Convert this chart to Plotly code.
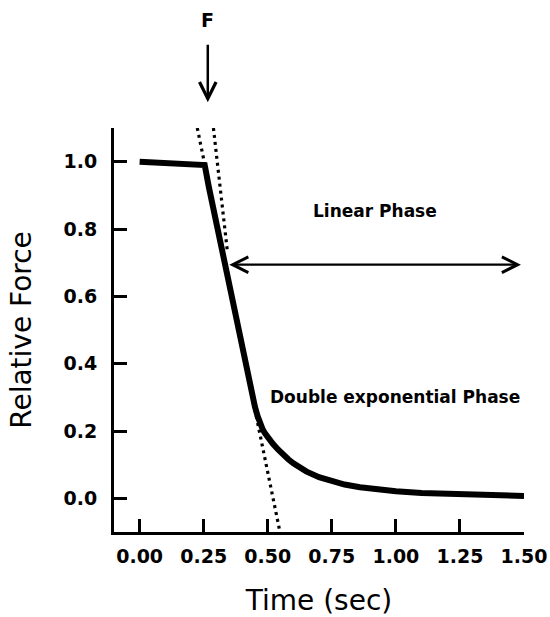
import plotly.graph_objects as go

# Measured force trace (relative force vs time, s)
time_s = [0.00, 0.05, 0.10, 0.15, 0.20, 0.25, 0.254, 0.27, 0.29, 0.31, 0.33, 0.35,
          0.37, 0.39, 0.41, 0.43, 0.44, 0.45, 0.46, 0.47, 0.48, 0.49, 0.50, 0.52,
          0.54, 0.56, 0.58, 0.60, 0.62, 0.65, 0.70, 0.75, 0.80, 0.86, 0.92, 1.00,
          1.10, 1.25, 1.40, 1.50]
rel_force = [1.000, 0.998, 0.996, 0.994, 0.993, 0.992, 0.990, 0.925, 0.850, 0.775, 0.700, 0.628,
             0.555, 0.483, 0.410, 0.335, 0.303, 0.272, 0.245, 0.222, 0.205, 0.192, 0.181, 0.162,
             0.145, 0.129, 0.116, 0.104, 0.093, 0.080, 0.063, 0.050, 0.041, 0.033, 0.027, 0.021,
             0.016, 0.012, 0.009, 0.007]

# Dotted fit lines (end points)
linear_fit_t = [0.225, 0.545]
linear_fit_f = [1.100, -0.090]
tangent_fit_t = [0.288, 0.343]
tangent_fit_f = [1.100, 0.730]

# Tick labels
x_ticks = [0.00, 0.25, 0.50, 0.75, 1.00, 1.25, 1.50]
y_ticks = [0.0, 0.2, 0.4, 0.6, 0.8, 1.0]

# Annotation anchors
stim_t = 0.266
linear_phase_arrow = {"t_start": 0.344, "t_end": 1.488, "f": 0.694}
labels = {"linear": (0.918, 0.853, "Linear Phase"),
          "double": (0.997, 0.300, "Double exponential Phase")}

FONT = "DejaVu Sans"

fig = go.Figure()
fig.add_trace(go.Scatter(x=linear_fit_t, y=linear_fit_f, mode="lines",
                         line=dict(color="black", width=3.2, dash="3px,4px"),
                         hoverinfo="skip", showlegend=False))
fig.add_trace(go.Scatter(x=tangent_fit_t, y=tangent_fit_f, mode="lines",
                         line=dict(color="black", width=3.2, dash="3px,4px"),
                         hoverinfo="skip", showlegend=False))
fig.add_trace(go.Scatter(x=time_s, y=rel_force, mode="lines",
                         line=dict(color="black", width=6),
                         showlegend=False))

annotations = [
    dict(x=stim_t, y=1.30, xref="x", yref="paper", text="<b>F</b>", showarrow=False,
         font=dict(family=FONT, size=19, color="black")),
    dict(x=stim_t, y=1.064, xref="x", yref="paper", ax=0, ay=-59, text="",
         showarrow=True, arrowhead=5, arrowwidth=2.5, arrowsize=1.3, arrowcolor="black"),
    dict(x=linear_phase_arrow["t_end"], y=linear_phase_arrow["f"],
         ax=linear_phase_arrow["t_start"], ay=linear_phase_arrow["f"],
         xref="x", yref="y", axref="x", ayref="y", text="", showarrow=True,
         arrowside="end+start", arrowhead=5, startarrowhead=5, arrowwidth=2.2,
         arrowsize=1.4, startarrowsize=1.4, arrowcolor="black"),
]
for key, (lx, ly, txt) in labels.items():
    annotations.append(dict(x=lx, y=ly, xref="x", yref="y", text="<b>" + txt + "</b>",
                            showarrow=False, font=dict(family=FONT, size=17, color="black")))

fig.update_layout(
    width=550, height=617,
    margin=dict(l=114, r=26, t=128, b=85, autoexpand=False),
    paper_bgcolor="white", plot_bgcolor="white",
    font=dict(family=FONT, color="black"),
    annotations=annotations,
    xaxis=dict(range=[-0.1, 1.5], tickvals=x_ticks, ticktext=[f"{v:.2f}" for v in x_ticks],
               showline=True, linewidth=3, linecolor="black", mirror=False, automargin=False,
               ticks="inside", ticklen=13, tickwidth=2.5, tickcolor="black",
               showgrid=False, zeroline=False, ticklabelstandoff=5,
               tickfont=dict(family=FONT, size=19, color="black", weight="bold"),
               title=dict(text="Time (sec)", standoff=26,
                          font=dict(family=FONT, size=28, color="black"))),
    yaxis=dict(range=[-0.1, 1.1], tickvals=y_ticks, ticktext=[f"{v:.1f}" for v in y_ticks],
               showline=True, linewidth=3, linecolor="black", mirror=False, automargin=False,
               ticks="inside", ticklen=13, tickwidth=2.5, tickcolor="black",
               showgrid=False, zeroline=False, ticklabelstandoff=10,
               tickfont=dict(family=FONT, size=19, color="black", weight="bold"),
               title=dict(text="Relative Force", standoff=24,
                          font=dict(family=FONT, size=28, color="black"))),
)

fig.write_html("out.html")
